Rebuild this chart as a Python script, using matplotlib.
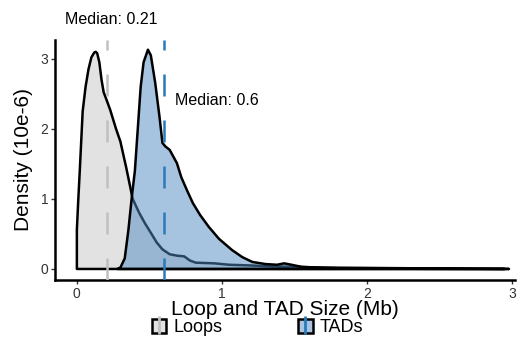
import matplotlib.pyplot as plt
from matplotlib.lines import Line2D
from matplotlib.patches import Patch

plt.rcParams['font.family'] = ['Liberation Sans', 'DejaVu Sans']

loop_x = [0.0, 0.0, 0.01, 0.02, 0.04, 0.06, 0.08, 0.10, 0.12, 0.13, 0.14, 0.155,
          0.17, 0.185, 0.20, 0.23, 0.27, 0.30, 0.34, 0.385, 0.43, 0.47, 0.50,
          0.55, 0.59, 0.64, 0.69, 0.74, 0.78, 0.82, 0.95, 1.05, 1.2, 1.3, 1.4,
          1.5, 1.7, 2.0, 2.3, 2.6, 2.98]
loop_y = [0.0, 0.56, 1.0, 1.4, 2.25, 2.6, 2.85, 3.02, 3.09, 3.1, 3.08, 2.95,
          2.7, 2.52, 2.44, 2.27, 2.0, 1.82, 1.45, 1.0, 0.8, 0.65, 0.55,
          0.38, 0.28, 0.21, 0.19, 0.18, 0.12, 0.09, 0.08, 0.06, 0.05, 0.04, 0.035,
          0.03, 0.02, 0.015, 0.01, 0.005, 0.0]

tad_x = [0.28, 0.30, 0.33, 0.355, 0.38, 0.40, 0.42, 0.44, 0.46, 0.49, 0.51,
         0.54, 0.57, 0.59, 0.61, 0.64, 0.69, 0.72, 0.76, 0.80, 0.85, 0.91, 0.98,
         1.07, 1.14, 1.21, 1.30, 1.38, 1.43, 1.48, 1.55, 1.65, 1.8, 2.0, 2.3,
         2.6, 2.95]
tad_y = [0.0, 0.02, 0.15, 0.55, 1.05, 1.4, 2.0, 2.6, 2.95, 3.13, 3.05,
         2.66, 2.17, 1.8, 1.75, 1.7, 1.51, 1.31, 1.12, 0.94, 0.77, 0.6, 0.43,
         0.27, 0.17, 0.1, 0.07, 0.06, 0.08, 0.06, 0.03, 0.02, 0.01, 0.005, 0.003,
         0.001, 0.0]

loop_median = 0.21
tad_median = 0.6

loop_fill, loop_line = '#c7c7c7', '#c0c0c0'
tad_fill, tad_line = '#4f8bc3', '#2a7ab9'

fig = plt.figure(figsize=(5.2, 3.41), dpi=100)
ax = fig.add_axes([0.106, 0.179, 0.884, 0.704])

# loops first, TADs overlaid with transparency
ax.fill_between(loop_x, loop_y, color=loop_fill, alpha=0.5, lw=0)
ax.fill(loop_x, loop_y, fill=False, ec='black', lw=1.8, joinstyle='round')
ax.fill_between(tad_x, tad_y, color=tad_fill, alpha=0.5, lw=0, zorder=3)
ax.fill(tad_x, tad_y, fill=False, ec='black', lw=1.8, joinstyle='round', zorder=3)

ax.axvline(loop_median, color=loop_line, lw=1.8, dashes=(8.8, 9.6), zorder=4)
ax.axvline(tad_median, color=tad_line, lw=1.8, dashes=(8.8, 9.6), zorder=4)

ax.text(loop_median + 0.03, 3.56, 'Median: %s' % loop_median, ha='center',
        va='center', fontsize=11.5, clip_on=False)
ax.text(tad_median + 0.08, 2.4, 'Median: %s' % tad_median, ha='left',
        va='center', fontsize=11.5)

ax.set_xlim(-0.15, 3.02)
ax.set_ylim(-0.157, 3.27)
ax.set_xticks([0, 1, 2, 3])
ax.set_yticks([0, 1, 2, 3])
ax.set_xlabel('Loop and TAD Size (Mb)', fontsize=15, labelpad=-1)
ax.set_ylabel('Density (10e-6)', fontsize=15, labelpad=5)
ax.tick_params(length=3, width=1, labelsize=10, colors='#333333', pad=2)

for s in ['top', 'right']:
    ax.spines[s].set_visible(False)
for s in ['left', 'bottom']:
    ax.spines[s].set_linewidth(1.8)

handles = [
    (Patch(facecolor='#e3e3e3', edgecolor='black', lw=1.8),
     Line2D([], [], marker='|', ls='None', ms=13, mew=2, color=loop_line)),
    (Patch(facecolor='#a7c5e1', edgecolor='black', lw=1.8),
     Line2D([], [], marker='|', ls='None', ms=13, mew=2, color=tad_line)),
]
fig.legend(handles, ['Loops', 'TADs'], loc='center', bbox_to_anchor=(0.495, 0.04),
           ncol=2, frameon=False, fontsize=13, handlelength=0.8,
           handleheight=0.85, handletextpad=0.4, columnspacing=4.2,
           borderpad=0)

fig.savefig('out.png', dpi=100)
